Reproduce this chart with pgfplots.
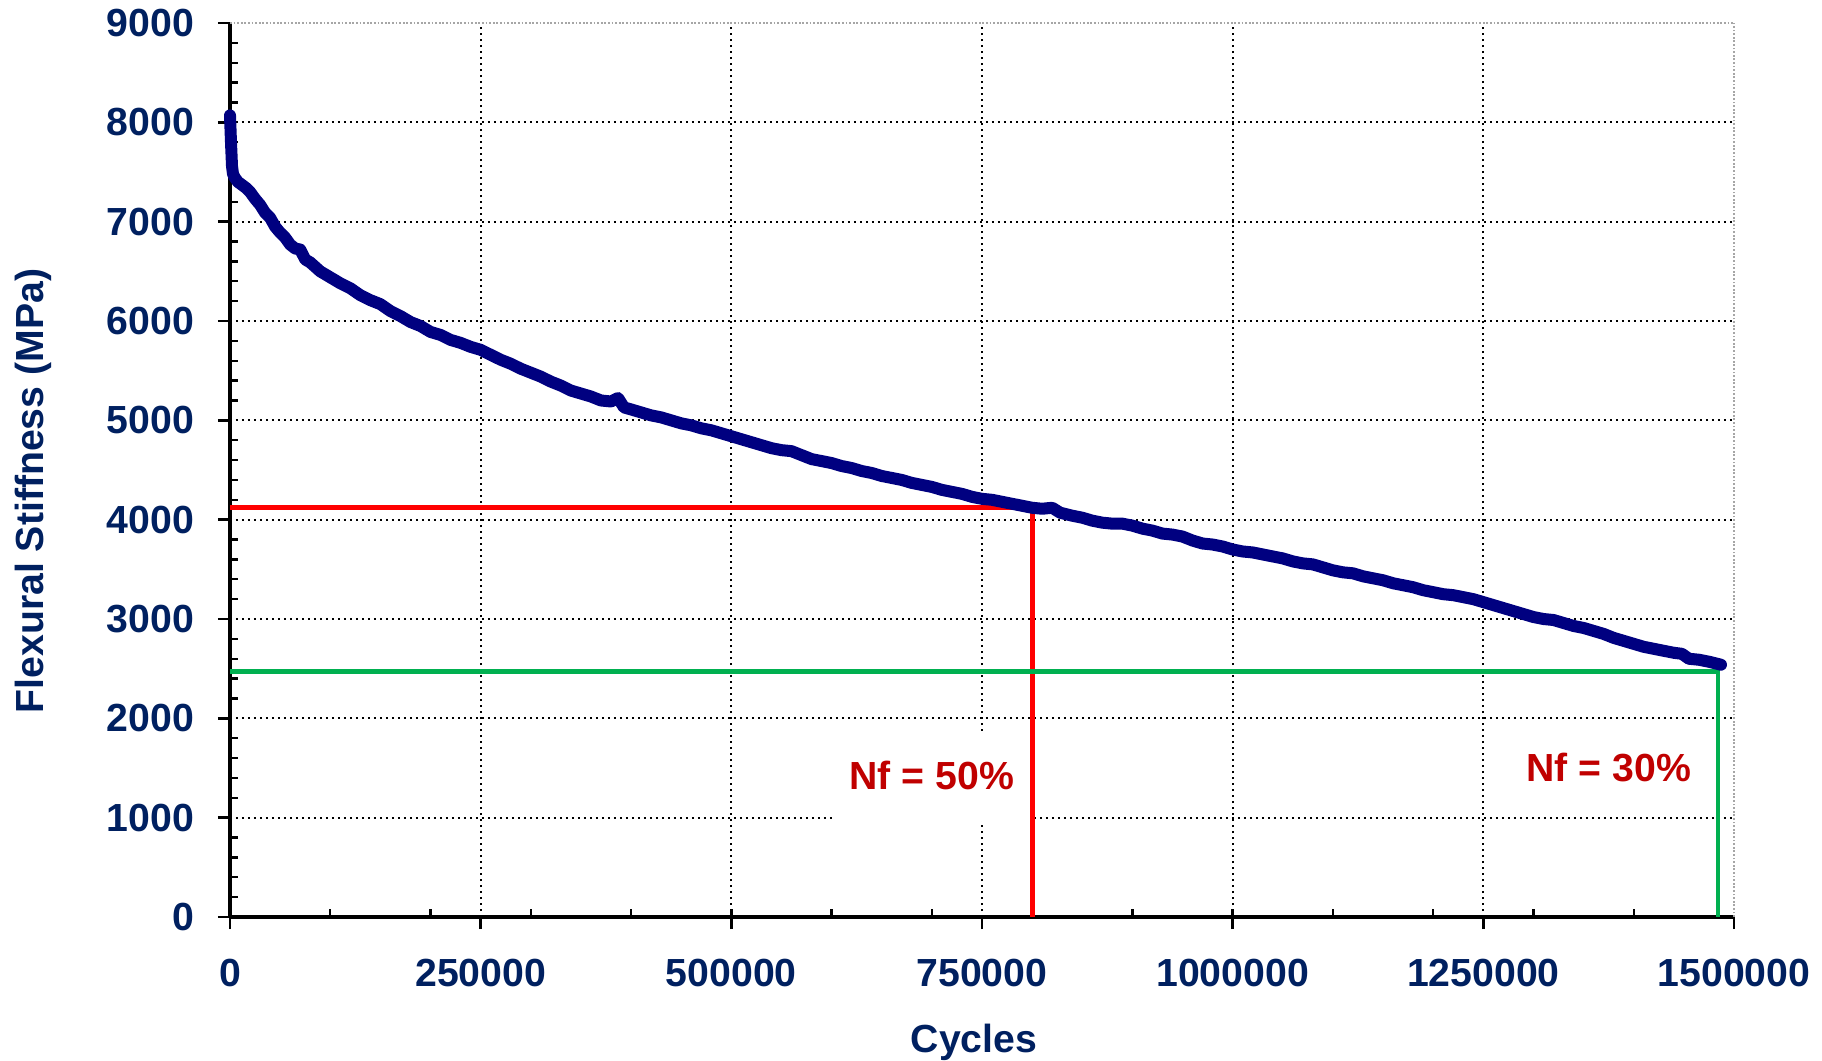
\documentclass[border=0pt]{standalone}
\usepackage{fontspec}
\setmainfont{Liberation Sans}
\usepackage{pgfplots}
\pgfplotsset{compat=1.18}
\definecolor{txtnavy}{RGB}{0,32,96}
\definecolor{curvenavy}{RGB}{0,0,128}
\definecolor{lred}{RGB}{255,0,0}
\definecolor{tred}{RGB}{192,0,0}
\definecolor{lgreen}{RGB}{0,176,80}
\begin{document}
\begin{tikzpicture}
\path[use as bounding box] (-57.5pt,-36pt) rectangle (398pt,229.25pt);
\begin{axis}[
  at={(0,0)}, anchor=south west,
  width=376pt, height=223.5pt, scale only axis,
  xmin=0, xmax=1500000, ymin=0, ymax=9000,
  clip=false,
  axis x line=bottom, axis y line=left,
  axis line style={-, line width=0.9pt, black},
  xtick={0,250000,500000,750000,1000000,1250000},
  extra x ticks={1500000},
  ytick={0,1000,2000,3000,4000,5000,6000,7000,8000},
  extra y ticks={9000},
  extra x tick style={major grid style={gray!70, line width=0.6pt, dash pattern=on 0.45pt off 0.45pt}},
  extra y tick style={major grid style={gray!70, line width=0.6pt, dash pattern=on 0.45pt off 0.45pt}},
  minor xtick={100000,200000,300000,400000,500000,600000,700000,800000,900000,1000000,1100000,1200000,1300000,1400000},
  minor ytick={200,400,600,800,1200,1400,1600,1800,2200,2400,2600,2800,3200,3400,3600,3800,4200,4400,4600,4800,5200,5400,5600,5800,6200,6400,6600,6800,7200,7400,7600,7800,8200,8400,8600,8800},
  grid=major,
  major grid style={black, line width=0.55pt, dash pattern=on 0.55pt off 0.95pt},
  tick align=outside,
  major tick length=3pt, minor tick length=2pt,
  tick style={black, line width=0.6pt},
  every minor x tick/.append style={yshift=2pt},
  every minor y tick/.append style={xshift=2pt},
  scaled x ticks=false, scaled y ticks=false,
  tick label style={font=\fontsize{9.8}{11}\selectfont\bfseries, text=txtnavy},
  /pgf/number format/assume math mode=true,
  /pgf/number format/fixed, /pgf/number format/precision=0,
  /pgf/number format/1000 sep={},
  yticklabel style={xshift=-2.5pt},
  xticklabel style={yshift=-4pt},
  xlabel={Cycles},
  ylabel={Flexural Stiffness (MPa)},
  label style={font=\fontsize{9.8}{11}\selectfont\bfseries, text=txtnavy},
  xlabel style={at={(axis description cs:0.4947,-0.140)}, anchor=center},
  ylabel style={at={(axis description cs:-0.131,0.4765)}, anchor=center, rotate=0},
]
\addplot[lred, line width=1.2pt] coordinates {(0,4120) (800000,4120) (800000,0)};
\addplot[lgreen, line width=1.2pt] coordinates {(0,2475) (1484000,2475) (1484000,0)};
\addplot[curvenavy, line width=3pt, line join=round, line cap=round] table {
x y
0 8070
1000 7800
2000 7560
3000 7480
5000 7440
8000 7400
12000 7370
16000 7340
20000 7300
25000 7230
30000 7170
35000 7090
40000 7040
45000 6950
50000 6890
55000 6840
60000 6770
65000 6730
70000 6720
75000 6620
80000 6590
90000 6500
100000 6440
110000 6380
120000 6330
130000 6260
140000 6210
150000 6170
160000 6100
170000 6050
180000 5990
190000 5950
200000 5890
210000 5860
220000 5810
230000 5780
240000 5740
250000 5710
260000 5660
270000 5610
280000 5570
290000 5520
300000 5480
310000 5440
320000 5390
330000 5350
340000 5300
350000 5270
360000 5240
370000 5200
380000 5190
387000 5225
393000 5130
400000 5110
410000 5080
420000 5050
430000 5030
440000 5000
450000 4970
460000 4950
470000 4920
480000 4900
490000 4870
500000 4840
510000 4810
520000 4780
530000 4750
540000 4720
550000 4700
560000 4690
570000 4650
580000 4610
590000 4590
600000 4570
610000 4540
620000 4520
630000 4490
640000 4470
650000 4440
660000 4420
670000 4400
680000 4370
690000 4350
700000 4330
710000 4300
720000 4280
730000 4260
740000 4230
750000 4210
760000 4200
770000 4180
780000 4160
790000 4140
800000 4120
810000 4110
820000 4120
828000 4070
840000 4040
850000 4020
860000 3990
870000 3970
880000 3960
890000 3960
900000 3940
910000 3910
920000 3890
930000 3860
940000 3850
950000 3830
960000 3790
970000 3760
980000 3750
990000 3730
1000000 3700
1010000 3680
1020000 3670
1030000 3650
1040000 3630
1050000 3610
1060000 3580
1070000 3560
1080000 3550
1090000 3520
1100000 3490
1110000 3470
1120000 3460
1130000 3430
1140000 3410
1150000 3390
1160000 3360
1170000 3340
1180000 3320
1190000 3290
1200000 3270
1210000 3250
1220000 3240
1230000 3220
1240000 3200
1250000 3170
1260000 3140
1270000 3110
1280000 3080
1290000 3050
1300000 3020
1310000 3000
1320000 2990
1330000 2960
1340000 2930
1350000 2910
1360000 2880
1370000 2850
1380000 2810
1390000 2780
1400000 2750
1410000 2720
1420000 2700
1430000 2680
1440000 2660
1448000 2650
1455000 2600
1465000 2590
1475000 2570
1487000 2540
};
\node[fill=white, text=tred, font=\fontsize{9.8}{11}\selectfont\bfseries, inner xsep=4pt, inner ysep=7.75pt, text height=7pt, text depth=0pt] at (axis cs:700000,1420) {Nf = 50\%};
\node[text=tred, font=\fontsize{9.8}{11}\selectfont\bfseries, inner sep=0pt] at (axis cs:1375000,1500) {Nf = 30\%};
\end{axis}
\end{tikzpicture}
\end{document}
